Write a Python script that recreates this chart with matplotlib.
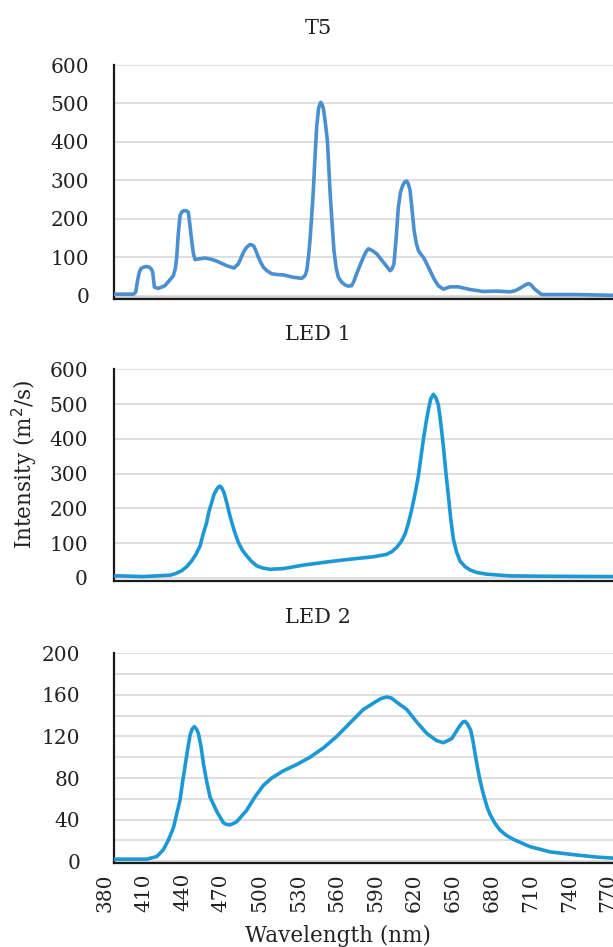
import numpy as np
import matplotlib
matplotlib.use("Agg")
import matplotlib.pyplot as plt
from matplotlib.transforms import offset_copy

plt.rcParams['font.family'] = ['DejaVu Serif']

# %%	spectra (nm, intensity)

t5_nm = [386.5, 402, 403.5, 404, 405.3, 406.6, 408, 409.7, 412, 414.4, 416, 417, 417.7,
         418.3, 421.4, 426.5, 433, 434.5, 435.6, 436.8, 438.2, 439.8, 441.3, 443, 444.6,
         445.8, 447.2, 448.5, 449.8, 453.5, 457.5, 462, 466.6, 470.5, 474.3, 480, 483.4,
         485.3, 487.3, 489.8, 492.4, 494, 495.5, 497.2, 498.9, 500.8, 502.8, 505.5, 509.2,
         513.5, 518.3, 526, 532.5, 535, 536.4, 537.7, 538.9, 540.2, 541.5, 542.8, 544.1,
         545.6, 547.2, 548.3, 549.3, 550.8, 552.4, 553.4, 554.4, 556, 557.5, 559.2, 560.9,
         563.5, 566.1, 568.6, 571.2, 573, 575.1, 577.7, 580.3, 582.3, 584.2, 587.4, 590.6,
         593.2, 595.8, 598.4, 601, 602.5, 604, 605.7, 607.4, 609, 610.8, 612.4, 613.9,
         615.2, 616.5, 618, 619.6, 621.3, 623, 625, 626.8, 629.4, 632, 635.2, 638.4, 642.3,
         647.5, 653.9, 663, 673.3, 683.6, 694, 697.9, 702, 706.9, 708.5, 710, 712.3, 714.6,
         718.5, 745.7, 773.8]
t5_val = [4, 4, 8, 13, 40, 61, 71, 74, 76, 74, 69, 61, 40,
          22, 19, 26, 52, 70, 100, 160, 209, 219, 221, 221, 217,
          185, 143, 110, 94, 96, 98, 95, 90, 84, 78, 72, 83,
          97, 113, 126, 133, 132, 128, 115, 100, 86, 74, 65, 57,
          55, 54, 48, 45, 52, 65, 100, 143, 205, 274, 360, 439,
          488, 503, 497, 487, 450, 404, 340, 274, 190, 117, 72, 48,
          35, 28, 25, 26, 38, 57, 79, 100, 114, 122, 117, 109,
          98, 87, 76, 65, 70, 83, 150, 230, 268, 287, 296, 298,
          290, 274, 225, 170, 137, 117, 107, 100, 83, 65, 43, 26, 17,
          23, 23, 16, 11, 12, 10, 13, 20, 30, 31, 29, 20, 13,
          3, 3, 1]

led1_nm = [386.6, 391.7, 409.7, 430.4, 435, 439.5, 443.5, 447.2, 450.5, 453.7, 456,
           458.8, 460.5, 462.7, 464.5, 466.6, 468, 469.2, 470.5, 472.3, 474.5, 476.9, 480,
           483.4, 486.5, 489.8, 493.5, 497.6, 502, 507.9, 518.3, 533.8, 551.9, 570, 588,
           598.4, 602.5, 606.1, 609.5, 612.6, 615, 617.8, 620.5, 622.9, 625, 626.8, 628.8,
           630.7, 632.5, 634.6, 636.5, 638.4, 640.3, 642.3, 644.2, 646.2, 648, 650.1, 652.5,
           655.2, 659, 663, 668, 675.9, 694, 719.8, 773.8]
led1_val = [6, 6, 4, 8, 13, 21, 33, 49, 68, 92, 125,
            159, 190, 217, 240, 255, 262, 264, 259, 245, 215, 178, 138,
            102, 80, 64, 48, 35, 29, 25, 27, 37, 46, 54, 61,
            68, 76, 88, 104, 126, 155, 197, 245, 293, 350, 398, 445,
            484, 515, 528, 518, 498, 445, 379, 305, 236, 170, 111, 75,
            49, 33, 23, 16, 11, 6, 5, 4]

led2_nm = [386.5, 412.3, 420.1, 425.2, 429, 433, 435.5, 438.2, 440, 442, 444, 445.9,
           447.5, 449.3, 451, 452.4, 454.5, 456.3, 458.8, 461.4, 466.6, 471.8, 474, 476.4,
           479, 482.1, 489.8, 496.3, 502.8, 509.2, 518.3, 528.6, 538.9, 549.3, 559.6, 569.9,
           580.3, 590.6, 594, 598.4, 602, 606.1, 613.9, 621.6, 629.4, 637.1, 642.3, 648.8,
           653.9, 655.5, 657.5, 659.1, 661, 663.5, 665.2, 666.8, 668.8, 670.7, 672.6, 674.6,
           676.5, 678.5, 682, 686.2, 691, 696.6, 709.5, 725, 745.7, 761.2, 773.8]
led2_val = [2, 2, 4.5, 11, 20, 32, 45, 59, 75, 91, 107, 121,
            127, 129.5, 127, 123, 110, 94, 77, 62, 48, 37, 35.5, 35,
            36, 38, 49, 62, 73, 80, 87, 93, 100, 109, 120, 133,
            146, 154, 156.5, 158, 157, 153, 146, 134, 123, 116, 114, 118,
            128, 131, 134, 134.5, 132, 126, 116, 104, 90, 78, 68, 59,
            51, 45, 37, 30, 25, 21, 14, 9, 6, 4, 3]

xtick_labels = list(range(380, 771, 30))

# %%	layout

W, H = 613, 947
fig = plt.figure(figsize=(W / 100, H / 100), dpi=100)

left = 113.5 / W
width = 1 - left

def frac(top_px, bottom_px):
    return [left, 1 - bottom_px / H, width, (bottom_px - top_px) / H]

panels = [
    ("T5", t5_nm, t5_val, '#4a8fd2', frac(65, 299), (-8.6, 600), 100, 17.5, 28),
    ("LED 1", led1_nm, led1_val, '#1d98d6', frac(369.3, 580.7), (-7.8, 600), 100, 18.5, 334),
    ("LED 2", led2_nm, led2_val, '#1d98d6', frac(653.3, 862.5), (-1.2, 200), 20, 24, 617),
]

axes = []
for title, xs, ys, col, rect, ylim, gstep, pad, ty in panels:
    ax = fig.add_axes(rect)
    ax.set_xlim(386.6, 773.8)
    ax.set_ylim(*ylim)
    for g in np.arange(0, ylim[1] + 0.1, gstep):
        ax.axhline(g, color='#d9d9d9', lw=1.2, zorder=0)
    ax.plot(xs, ys, color=col, lw=2.6, solid_joinstyle='round', solid_capstyle='round', zorder=3)
    major = 100 if ylim[1] > 200 else 40
    ax.set_yticks(np.arange(0, ylim[1] + 0.1, major))
    ax.tick_params(axis='y', length=0, pad=pad, labelsize=14.5, labelcolor='#222222')
    ax.set_xticks([])
    for s in ['top', 'right']:
        ax.spines[s].set_visible(False)
    for s in ['left', 'bottom']:
        ax.spines[s].set_linewidth(1.6)
        ax.spines[s].set_color('#1a1a1a')
    fig.text(318 / W, 1 - ty / H, title, ha='center', va='center', fontsize=15, color='#222222')
    axes.append(ax)

# grey band at the base of the T5 panel
axes[0].axhspan(-8.6, 0, color='#d4d4d4', lw=0, zorder=1)

# x tick labels only on the bottom panel (380 sits left of the axis)
ax = axes[2]
tr = offset_copy(ax.get_xaxis_transform(), fig=fig, y=-10.5 * 72 / 100, units='points')
for v in xtick_labels:
    ax.text(v, 0, str(v), transform=tr, rotation=90, ha='center', va='top',
            fontsize=14.5, color='#222222', clip_on=False)

fig.text(25 / W, 1 - 464 / H, 'Intensity (m$^2$/s)', rotation=90, ha='center', va='center',
         fontsize=15.5, color='#222222')
fig.text(338 / W, 1 - 936 / H, 'Wavelength (nm)', ha='center', va='center',
         fontsize=15.5, color='#222222')

fig.savefig('out.png', dpi=100)
